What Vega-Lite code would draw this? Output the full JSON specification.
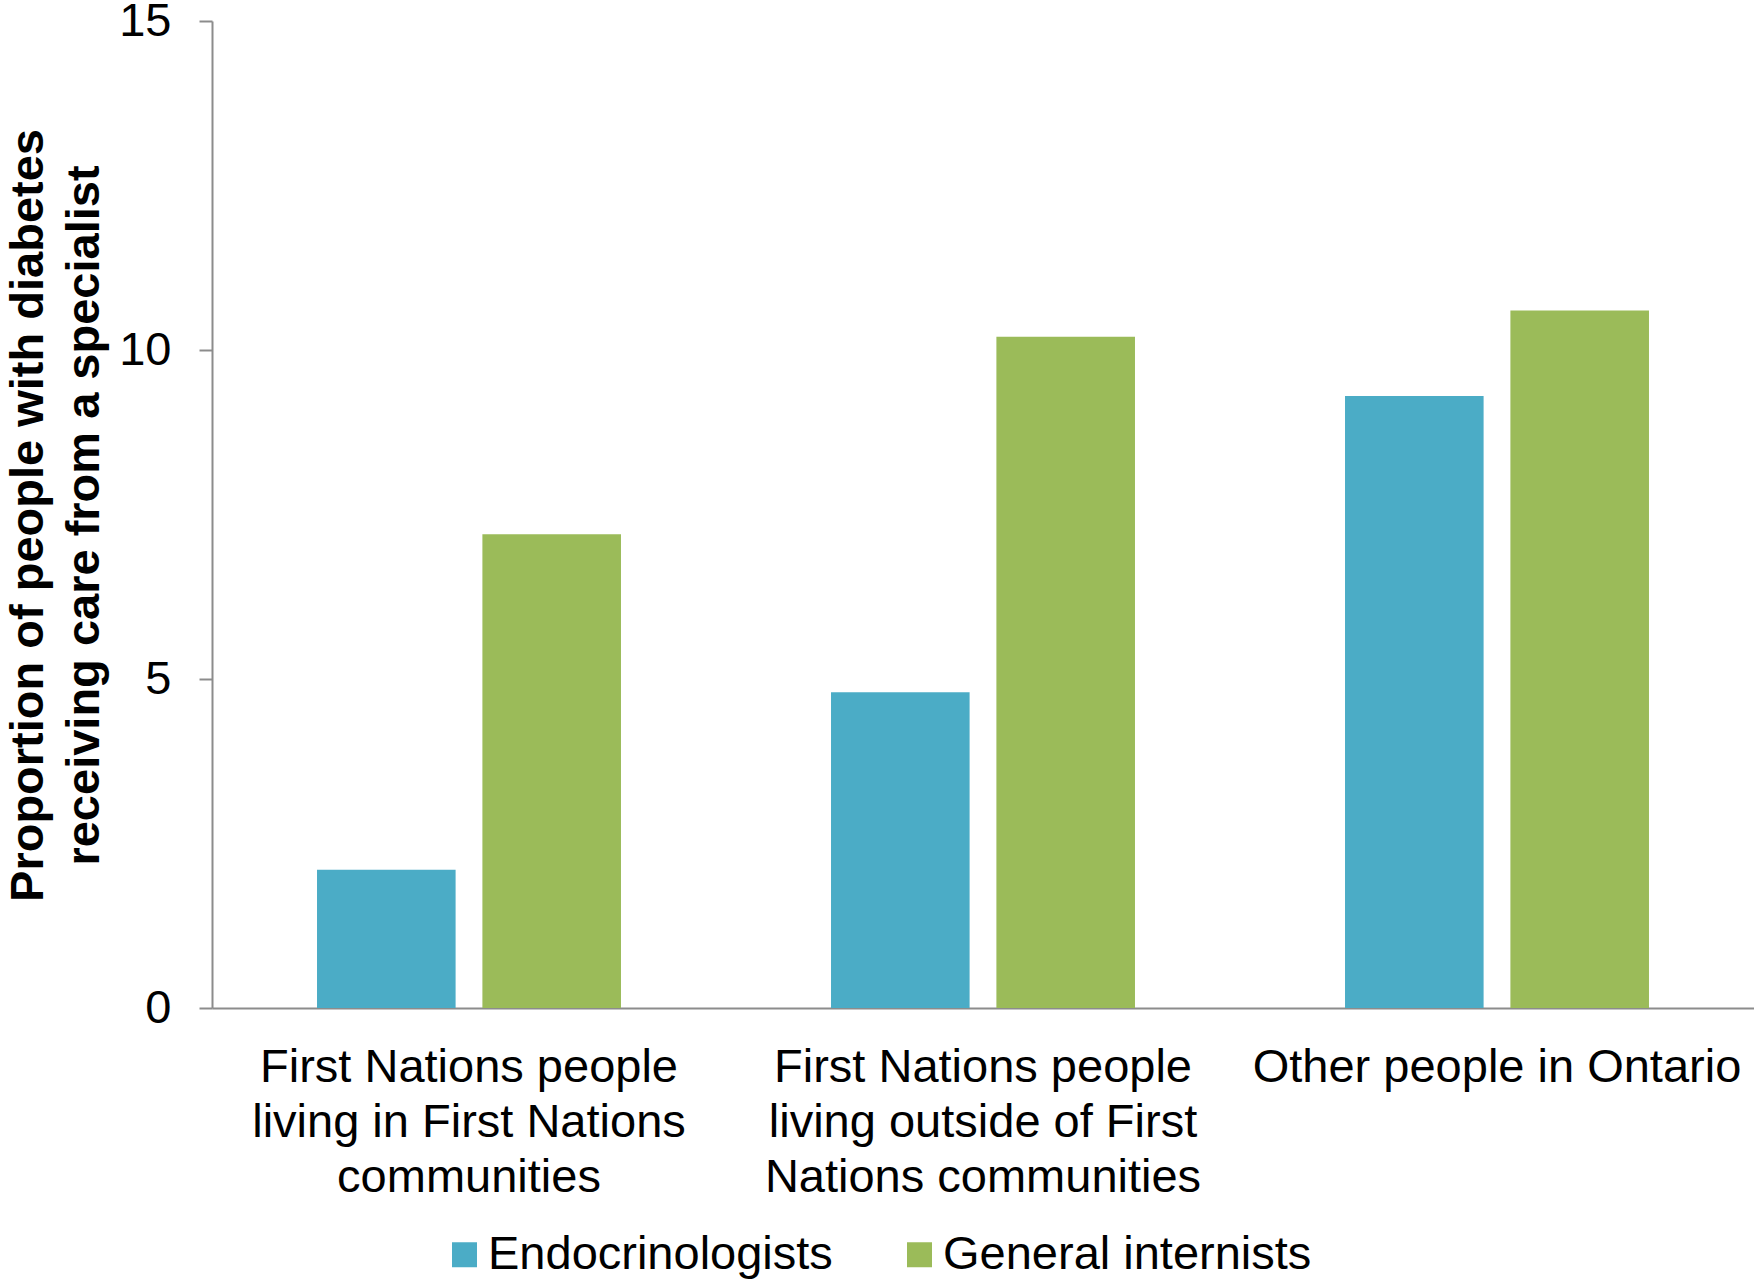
{
  "$schema": "https://vega.github.io/schema/vega-lite/v6.json",
  "width": 1542,
  "height": 987,
  "autosize": "none",
  "padding": {"left": 212, "top": 21, "right": 0, "bottom": 275},
  "background": "white",
  "config": {
    "view": {"stroke": null},
    "font": "Liberation Sans",
    "axis": {"grid": false}
  },
  "data": {
    "values": [
      {"group": "First Nations people living in First Nations communities", "specialist": "Endocrinologists", "value": 2.1},
      {"group": "First Nations people living in First Nations communities", "specialist": "General internists", "value": 7.2},
      {"group": "First Nations people living outside of First Nations communities", "specialist": "Endocrinologists", "value": 4.8},
      {"group": "First Nations people living outside of First Nations communities", "specialist": "General internists", "value": 10.2},
      {"group": "Other people in Ontario", "specialist": "Endocrinologists", "value": 9.3},
      {"group": "Other people in Ontario", "specialist": "General internists", "value": 10.6}
    ]
  },
  "mark": {"type": "bar"},
  "encoding": {
    "x": {
      "field": "group",
      "type": "nominal",
      "sort": null,
      "scale": {"paddingInner": 0, "paddingOuter": 0},
      "axis": {
        "title": null,
        "labelAngle": 0,
        "labelFontSize": 47,
        "labelColor": "#000000",
        "labelLineHeight": 55,
        "labelBaseline": "top",
        "labelPadding": 36,
        "ticks": false,
        "tickSize": 0,
        "domainColor": "#8c8c8c",
        "domainWidth": 2,
        "labelLimit": 0,
        "labelOverlap": false,
        "labelExpr": "datum.value == 'First Nations people living in First Nations communities' ? ['First Nations people', 'living in First Nations', 'communities'] : datum.value == 'First Nations people living outside of First Nations communities' ? ['First Nations people', 'living outside of First', 'Nations communities'] : datum.value"
      }
    },
    "xOffset": {
      "field": "specialist",
      "type": "nominal",
      "scale": {"paddingInner": 0.162, "paddingOuter": 0.635}
    },
    "y": {
      "field": "value",
      "type": "quantitative",
      "scale": {"domain": [0, 15], "nice": false},
      "axis": {
        "values": [0, 5, 10, 15],
        "labelFontSize": 47,
        "labelColor": "#000000",
        "labelPadding": 28,
        "tickSize": 13,
        "tickColor": "#8c8c8c",
        "tickWidth": 2,
        "domainColor": "#8c8c8c",
        "domainWidth": 2,
        "title": ["Proportion of people with diabetes", "receiving care from a specialist"],
        "titleFontSize": 47,
        "titleFontWeight": "bold",
        "titleColor": "#000000",
        "titleLineHeight": 56,
        "titleBaseline": "middle",
        "titleAngle": 270,
        "titleX": -184,
        "titleY": 494
      }
    },
    "color": {
      "field": "specialist",
      "type": "nominal",
      "scale": {"domain": ["Endocrinologists", "General internists"], "range": ["#4BACC6", "#9BBB59"]},
      "legend": {
        "title": null,
        "orient": "none",
        "direction": "horizontal",
        "legendX": 229,
        "legendY": 1210,
        "padding": 0,
        "symbolType": "square",
        "symbolSize": 625,
        "symbolStrokeWidth": 0,
        "labelFontSize": 47,
        "labelColor": "#000000",
        "labelOffset": 0,
        "columnPadding": 63,
        "labelLimit": 0
      }
    }
  }
}
